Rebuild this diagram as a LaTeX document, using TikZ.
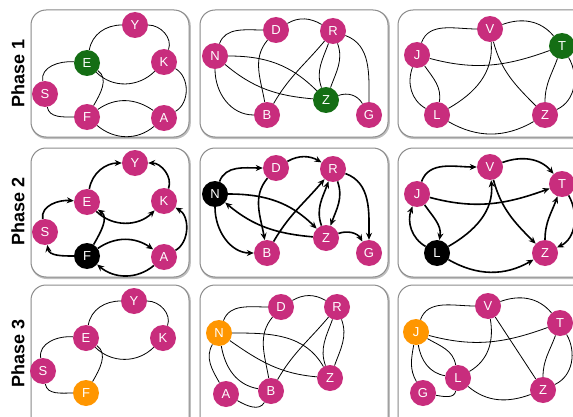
\documentclass[tikz,border=0pt]{standalone}
\usepackage{fontspec}
\setmainfont{Liberation Sans}
\usetikzlibrary{arrows.meta}
\definecolor{mag}{RGB}{200,45,125}
\definecolor{grn}{RGB}{20,110,20}
\definecolor{org}{RGB}{255,150,0}
\definecolor{panelc}{RGB}{140,140,140}
\pgfdeclarelayer{panel}\pgfdeclarelayer{edge}
\pgfsetlayers{panel,edge,main}
\begin{document}
\begin{tikzpicture}[x=1pt,y=1pt,
 vtx/.style={circle,fill=mag,text=white,minimum size=26pt,inner sep=0pt,font=\fontsize{13}{13}\selectfont},
 gv/.style={vtx,fill=grn}, bv/.style={vtx,fill=black}, ov/.style={vtx,fill=org},
 ue/.style={draw=black,line width=0.8pt},
 de/.style={draw=black,line width=1.6pt,-{Stealth[length=7pt,width=6pt]}},
 panelbox/.style={draw=panelc,line width=1pt,rounded corners=15pt,fill=white},
 panelshadow/.style={draw=black!25,line width=2pt,rounded corners=15pt},
 phase/.style={rotate=90,font=\bfseries\fontsize{18}{18}\selectfont}]
\useasboundingbox (0,0) rectangle (573,416);
\clip (0,0) rectangle (573,416);
\begin{pgfonlayer}{panel}
\foreach \x/\X in {31/189,200/388,398/590}{
  \draw[panelshadow] (\x+0.8,278) rectangle (\X+0.8,405);
  \draw[panelbox] (\x,279) rectangle (\X,406);
  \draw[panelshadow] (\x+0.8,138) rectangle (\X+0.8,267);
  \draw[panelbox] (\x,139) rectangle (\X,268);
  \draw[panelshadow] (\x+0.8,-21) rectangle (\X+0.8,130);
  \draw[panelbox] (\x,-20) rectangle (\X,131);
}
\end{pgfonlayer}
\node[phase] (ph1) at (18,343) {Phase 1};
\node[phase] (ph2) at (18,205) {Phase 2};
\node[phase] (ph3) at (18,63) {Phase 3};
% ---- row 1 ----
\node[vtx] (p11Y) at (135,391) {Y};
\node[gv]  (p11E) at (87,353) {E};
\node[vtx] (p11K) at (164,354) {K};
\node[vtx] (p11S) at (45,322) {S};
\node[vtx] (p11F) at (87,299) {F};
\node[vtx] (p11A) at (164,298) {A};
\node[vtx] (p12D) at (276,386) {D};
\node[vtx] (p12R) at (333,385) {R};
\node[vtx] (p12N) at (215,360) {N};
\node[gv]  (p12Z) at (326,316) {Z};
\node[vtx] (p12B) at (267,301) {B};
\node[vtx] (p12G) at (369,301) {G};
\node[vtx] (p13V) at (490,387) {V};
\node[vtx] (p13J) at (417,361) {J};
\node[gv]  (p13T) at (562,370) {T};
\node[vtx] (p13L) at (437,301) {L};
\node[vtx] (p13Z) at (545,301) {Z};
% ---- row 2 ----
\node[vtx] (p21Y) at (135,253) {Y};
\node[vtx] (p21E) at (87,214) {E};
\node[vtx] (p21K) at (164,215) {K};
\node[vtx] (p21S) at (45,184) {S};
\node[bv]  (p21F) at (87,160) {F};
\node[vtx] (p21A) at (164,159) {A};
\node[vtx] (p22D) at (276,248) {D};
\node[vtx] (p22R) at (333,247) {R};
\node[bv]  (p22N) at (215,222) {N};
\node[vtx] (p22Z) at (326,178) {Z};
\node[vtx] (p22B) at (267,163) {B};
\node[vtx] (p22G) at (369,163) {G};
\node[vtx] (p23V) at (490,249) {V};
\node[vtx] (p23J) at (417,222) {J};
\node[vtx] (p23T) at (562,232) {T};
\node[bv]  (p23L) at (437,163) {L};
\node[vtx] (p23Z) at (545,163) {Z};
% ---- row 3 ----
\node[vtx] (p31Y) at (134,115) {Y};
\node[vtx] (p31E) at (86,78) {E};
\node[vtx] (p31K) at (163,78) {K};
\node[vtx] (p31S) at (43,45) {S};
\node[ov]  (p31F) at (86,23) {F};
\node[vtx] (p32D) at (281,109) {D};
\node[vtx] (p32R) at (337,109) {R};
\node[ov]  (p32N) at (219,83) {N};
\node[vtx] (p32Z) at (330,38) {Z};
\node[vtx] (p32B) at (271,25) {B};
\node[vtx] (p32A) at (226,22) {A};
\node[vtx] (p33V) at (488,110) {V};
\node[ov]  (p33J) at (416,84) {J};
\node[vtx] (p33T) at (560,93) {T};
\node[vtx] (p33L) at (458,38) {L};
\node[vtx] (p33Z) at (543,26) {Z};
\node[vtx] (p33G) at (423,23) {G};
\begin{pgfonlayer}{edge}
% row 1 panel 1
\draw[ue] (p11E) to[out=80,in=180] (p11Y);
\draw[ue] (p11Y) to[out=0,in=70] (p11K);
\draw[ue] (p11E) to[out=-45,in=-135] (p11K);
\draw[ue] (p11S) to[out=100,in=175] (p11E);
\draw[ue] (p11S) to[out=-80,in=180] (p11F);
\draw[ue] (p11E) to[out=-35,in=60] (p11F);
\draw[ue] (p11F) to[out=35,in=145] (p11A);
\draw[ue] (p11F) to[out=-40,in=-140] (p11A);
\draw[ue] (p11K) to[out=-30,in=30] (p11A);
% row 1 panel 2
\draw[ue] (p12N) to[out=70,in=180] (p12D);
\draw[ue] (p12D) to[out=30,in=150] (p12R);
\draw[ue] (p12N) to[out=0,in=135] (p12Z);
\draw[ue] (p12N) to[out=-40,in=175] (p12Z);
\draw[ue] (p12N) to[out=-90,in=180] (p12B);
\draw[ue] (p12D) to[out=-130,in=100] (p12B);
\draw[ue] (p12B) to[out=60,in=-130] (p12R);
\draw[ue] (p12R) to[out=-110,in=110] (p12Z);
\draw[ue] (p12R) to[out=-70,in=70] (p12Z);
\draw[ue] (p12R) to[out=-20,in=90] (p12G);
\draw[ue] (p12Z) to[out=20,in=120] (p12G);
% row 1 panel 3
\draw[ue] (p13J) to[out=70,in=180] (p13V);
\draw[ue] (p13V) to[out=20,in=130] (p13T);
\draw[ue] (p13J) to[out=-15,in=-160] (p13T);
\draw[ue] (p13J) to[out=-110,in=150] (p13L);
\draw[ue] (p13J) to[out=-55,in=80] (p13L);
\draw[ue] (p13V) to[out=-85,in=30] (p13L);
\draw[ue] (p13V) to[out=-75,in=135] (p13Z);
\draw[ue] (p13T) to[out=-110,in=90] (p13Z);
\draw[ue] (p13T) to[out=-60,in=25] (p13Z);
\draw[ue] (p13L) to[out=-30,in=-150] (p13Z);
% row 2 panel 1
\draw[de] (p21E) to[out=80,in=180] (p21Y);
\draw[de] (p21K) to[out=70,in=0] (p21Y);
\draw[de] (p21E) to[out=-45,in=-135] (p21K);
\draw[de] (p21S) to[out=100,in=175] (p21E);
\draw[de] (p21F) to[out=180,in=-80] (p21S);
\draw[de] (p21F) to[out=60,in=-35] (p21E);
\draw[de] (p21F) to[out=35,in=145] (p21A);
\draw[de] (p21A) to[out=-140,in=-40] (p21F);
\draw[de] (p21A) to[out=30,in=-30] (p21K);
% row 2 panel 2
\draw[de] (p22N) to[out=70,in=180] (p22D);
\draw[de] (p22D) to[out=30,in=150] (p22R);
\draw[de] (p22N) to[out=0,in=135] (p22Z);
\draw[de] (p22Z) to[out=175,in=-40] (p22N);
\draw[de] (p22N) to[out=-90,in=180] (p22B);
\draw[de] (p22D) to[out=-130,in=100] (p22B);
\draw[de] (p22B) to[out=60,in=-130] (p22R);
\draw[de] (p22Z) to[out=110,in=-110] (p22R);
\draw[de] (p22R) to[out=-70,in=70] (p22Z);
\draw[de] (p22R) to[out=-20,in=90] (p22G);
\draw[de] (p22Z) to[out=20,in=120] (p22G);
% row 2 panel 3
\draw[de] (p23J) to[out=70,in=180] (p23V);
\draw[de] (p23V) to[out=20,in=130] (p23T);
\draw[de] (p23J) to[out=-15,in=-160] (p23T);
\draw[de] (p23L) to[out=150,in=-110] (p23J);
\draw[de] (p23J) to[out=-55,in=80] (p23L);
\draw[de] (p23L) to[out=30,in=-85] (p23V);
\draw[de] (p23V) to[out=-75,in=135] (p23Z);
\draw[de] (p23Z) to[out=90,in=-110] (p23T);
\draw[de] (p23T) to[out=-60,in=25] (p23Z);
\draw[de] (p23L) to[out=-30,in=-150] (p23Z);
% row 3 panel 1
\draw[ue] (p31E) to[out=80,in=180] (p31Y);
\draw[ue] (p31Y) to[out=0,in=70] (p31K);
\draw[ue] (p31E) to[out=-45,in=-135] (p31K);
\draw[ue] (p31S) to[out=100,in=175] (p31E);
\draw[ue] (p31S) to[out=-80,in=180] (p31F);
\draw[ue] (p31E) to[out=-35,in=60] (p31F);
% row 3 panel 2
\draw[ue] (p32N) to[out=70,in=180] (p32D);
\draw[ue] (p32D) to[out=30,in=150] (p32R);
\draw[ue] (p32N) to[out=0,in=120] (p32Z);
\draw[ue] (p32N) to[out=-35,in=175] (p32Z);
\draw[ue] (p32N) to[out=-80,in=170] (p32B);
\draw[ue] (p32D) to[out=-130,in=100] (p32B);
\draw[ue] (p32B) to[out=60,in=-130] (p32R);
\draw[ue] (p32R) to[out=-110,in=110] (p32Z);
\draw[ue] (p32R) to[out=-70,in=70] (p32Z);
\draw[ue] (p32N) to[out=-120,in=120] (p32A);
\draw[ue] (p32A) to[out=-30,in=-120] (p32B);
% row 3 panel 3
\draw[ue] (p33J) to[out=70,in=180] (p33V);
\draw[ue] (p33V) to[out=20,in=130] (p33T);
\draw[ue] (p33J) to[out=-15,in=-160] (p33T);
\draw[ue] (p33V) to[out=-80,in=30] (p33L);
\draw[ue] (p33V) -- (p33Z);
\draw[ue] (p33T) to[out=-110,in=90] (p33Z);
\draw[ue] (p33T) to[out=-60,in=25] (p33Z);
\draw[ue] (p33L) to[out=-40,in=-160] (p33Z);
\draw[ue] (p33J) to[out=-30,in=100] (p33L);
\draw[ue] (p33J) to[out=-80,in=170] (p33L);
\draw[ue] (p33J) to[out=-100,in=120] (p33G);
\draw[ue] (p33G) to[out=-10,in=-100] (p33L);
\end{pgfonlayer}
\end{tikzpicture}
\end{document}
